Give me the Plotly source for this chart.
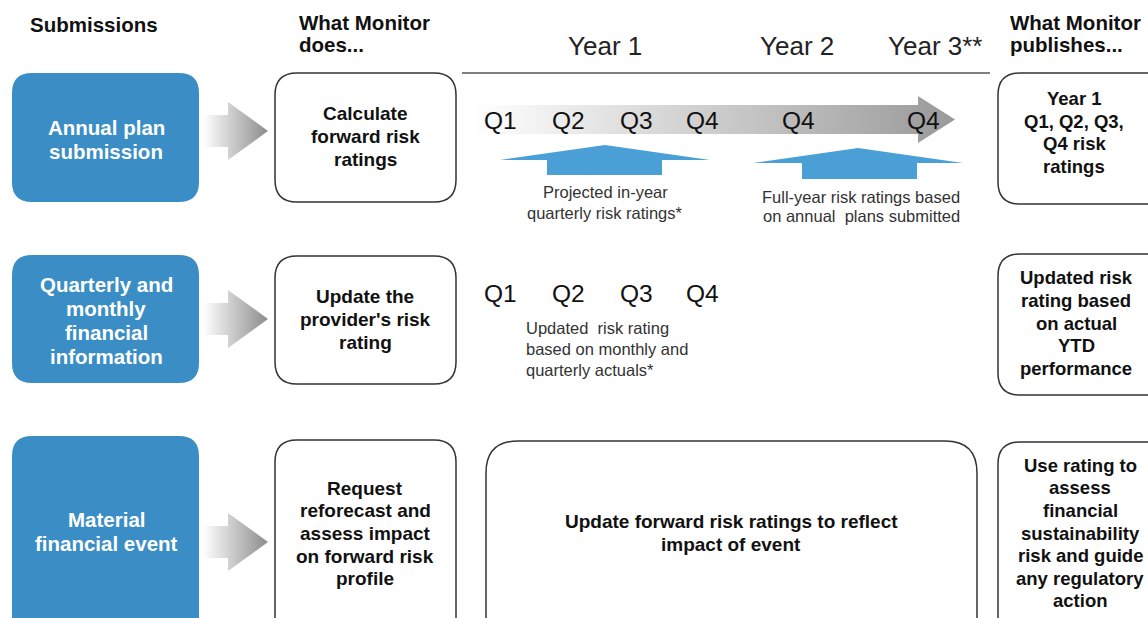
import plotly.graph_objects as go

# ---------------- data (text content) ----------------
column_headers = ["Submissions", "What Monitor<br>does...", "What Monitor<br>publishes..."]
year_labels = ["Year 1", "Year 2", "Year 3**"]
row_labels = ["Annual plan<br>submission",
              "Quarterly and<br>monthly<br>financial<br>information",
              "Material<br>financial event"]
monitor_does = ["Calculate<br>forward risk<br>ratings",
                "Update the<br>provider's risk<br>rating",
                "Request<br>reforecast and<br>assess impact<br>on forward risk<br>profile"]
monitor_publishes = ["Year 1<br>Q1, Q2, Q3,<br>Q4 risk<br>ratings",
                     "Updated risk<br>rating based<br>on actual<br>YTD<br>performance",
                     "Use rating to<br>assess<br>financial<br>sustainability<br>risk and guide<br>any regulatory<br>action"]
quarter_row1 = ["Q1", "Q2", "Q3", "Q4", "Q4", "Q4"]
quarter_row2 = ["Q1", "Q2", "Q3", "Q4"]
caption_projected = "Projected in-year<br>quarterly risk ratings*"
caption_fullyear = "Full-year risk ratings based<br>on annual  plans submitted"
caption_updated = "Updated  risk rating<br>based on monthly and<br>quarterly actuals*"
event_text = "Update forward risk ratings to reflect<br>impact of event"

# ---------------- styling ----------------
W, H = 1148, 618
FONT = "Arial, Liberation Sans, sans-serif"
BLUE_BOX = "#3b8ec5"
BLUE_ARROW = "#4b9fd7"
BORDER = "#333333"

fig = go.Figure()
shapes = []
annotations = []


def rounded_rect(x0, y0, x1, y1, r):
    return (f"M {x0+r},{y0} L {x1-r},{y0} Q {x1},{y0} {x1},{y0+r} "
            f"L {x1},{y1-r} Q {x1},{y1} {x1-r},{y1} L {x0+r},{y1} "
            f"Q {x0},{y1} {x0},{y1-r} L {x0},{y0+r} Q {x0},{y0} {x0+r},{y0} Z")


def add_box(x0, y0, x1, y1, r, fill, line_color, line_width):
    shapes.append(dict(type="path", path=rounded_rect(x0, y0, x1, y1, r),
                       xref="x", yref="y", fillcolor=fill,
                       line=dict(color=line_color, width=line_width), layer="below"))


def add_text(x, y, text, size, color="#111111", bold=False, xanchor="center",
             gap=None):
    lines = text.split("<br>")
    if gap is None:
        gap = size * 1.25
    n = len(lines)
    for k, ln in enumerate(lines):
        yy = y + (k - (n - 1) / 2) * gap
        t = f"<b>{ln}</b>" if bold else ln
        annotations.append(dict(x=x, y=yy, xref="x", yref="y", text=t, showarrow=False,
                                font=dict(family=FONT, size=size, color=color),
                                xanchor=xanchor, yanchor="middle"))


def gradient_poly(xs, ys, start, stop, c0="#ffffff", c1="#959595"):
    fig.add_trace(go.Scatter(x=xs, y=ys, mode="lines", fill="toself",
                             line=dict(width=0), hoverinfo="skip", showlegend=False,
                             fillgradient=dict(type="horizontal",
                                               colorscale=[[0, c0], [1, c1]],
                                               start=start, stop=stop)))


def solid_poly(xs, ys, color):
    fig.add_trace(go.Scatter(x=xs, y=ys, mode="lines", fill="toself", fillcolor=color,
                             line=dict(width=0), hoverinfo="skip", showlegend=False))


# ---------------- headers ----------------
add_text(28, 24, column_headers[0], 20.5, bold=True, xanchor="left")
add_text(297, 33, column_headers[1], 20.5, bold=True, xanchor="left", gap=22)
add_text(1008, 33, column_headers[2], 20.5, bold=True, xanchor="left", gap=22)
for lbl, x in zip(year_labels, [605, 797, 935]):
    add_text(x, 46, lbl, 26, color="#222222")
shapes.append(dict(type="line", x0=462, x1=990, y0=73, y1=73, xref="x", yref="y",
                   line=dict(color="#808080", width=2)))

# ---------------- rows ----------------
row_y = [(73, 202), (255, 383), (436, 660)]
does_y = [(73, 202), (256, 384), (440, 660)]
pub_y = [(73, 204), (254, 395), (442, 660)]
arrow_mid = [131, 319, 542]
row_text_y = [139, 320, 531]
does_text_y = [136.5, 319.5, 533.5]
pub_text_y = [132.5, 323, 533]
pub_text_x = [1074, 1076, 1080]

for i in range(3):
    y0, y1 = row_y[i]
    add_box(12, y0, 199, y1, 20, BLUE_BOX, BLUE_BOX, 0)
    add_text(106, row_text_y[i], row_labels[i], 20.5, color="#ffffff", bold=True, gap=24)

    # small gradient arrow
    m = arrow_mid[i]
    xs = [203, 228, 228, 268, 228, 228, 203, 203]
    ys = [m - 16, m - 16, m - 29, m, m + 29, m + 16, m + 16, m - 16]
    gradient_poly(xs, ys, 203, 268, "#ffffff", "#8c8c8c")

    dy0, dy1 = does_y[i]
    add_box(275, dy0, 456, dy1, 22, "rgba(0,0,0,0)", BORDER, 1.5)
    add_text(365, does_text_y[i], monitor_does[i], 19, bold=True, gap=22.7)

    py0, py1 = pub_y[i]
    add_box(998, py0, 1175, py1, 22, "rgba(0,0,0,0)", BORDER, 1.5)
    add_text(pub_text_x[i], pub_text_y[i], monitor_publishes[i], 18.5, bold=True, gap=22.6)

# big event box
add_box(486, 441, 977, 660, 32, "rgba(0,0,0,0)", BORDER, 1.5)
add_text(731, 532.5, event_text, 19, bold=True, gap=23)

# ---------------- timeline arrow ----------------
xs = [475, 918, 918, 955, 918, 918, 475, 475]
ys = [105, 105, 96, 119.5, 143, 134, 134, 105]
gradient_poly(xs, ys, 475, 955, "#ffffff", "#999999")

for q, x in zip(quarter_row1, [500, 568, 636, 702, 798, 923]):
    add_text(x, 120, q, 24.5, color="#111111")
for q, x in zip(quarter_row2, [500, 568, 636, 702]):
    add_text(x, 293, q, 24.5, color="#111111")

# blue up arrows
solid_poly([500, 605, 710, 662, 662, 547, 547, 500],
           [160, 145, 160, 160, 175, 175, 160, 160], BLUE_ARROW)
solid_poly([753, 858, 963, 917, 917, 802, 802, 753],
           [163, 148, 163, 163, 179, 179, 163, 163], BLUE_ARROW)

add_text(605, 202.5, caption_projected, 16.5, color="#333333", gap=21)
add_text(861, 206.5, caption_fullyear, 16.5, color="#333333", gap=19.5)
add_text(524, 349, caption_updated, 16.5, color="#333333", xanchor="left", gap=21)

fig.update_layout(
    width=W, height=H, margin=dict(l=0, r=0, t=0, b=0),
    paper_bgcolor="white", plot_bgcolor="white",
    xaxis=dict(range=[0, W], visible=False, fixedrange=True),
    yaxis=dict(range=[H, 0], visible=False, fixedrange=True),
    shapes=shapes, annotations=annotations, showlegend=False,
    hovermode=False,
)
fig.write_html("out.html",
               config={"displayModeBar": False, "staticPlot": True},
               post_script="document.body.style.margin='0';"
                           "document.body.style.overflow='hidden';")
